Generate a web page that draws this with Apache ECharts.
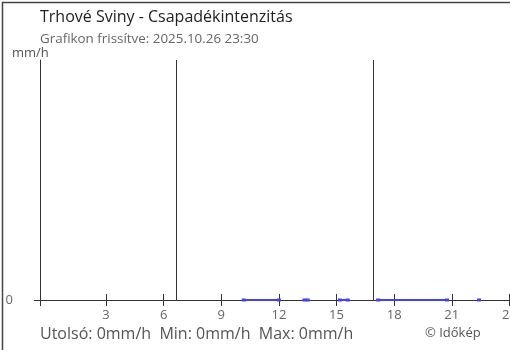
<!DOCTYPE html>
<html>
<head>
<meta charset="utf-8">
<script src="https://cdn.jsdelivr.net/npm/echarts@6/dist/echarts.min.js"></script>
<style>
html,body{margin:0;padding:0;background:#fff;overflow:hidden;width:510px;height:350px;}
#chart{width:530px;height:350px;}
</style>
</head>
<body>
<div id="chart"></div>
<script>
// ---- data ----
const titleText = 'Trhové Sviny - Csapadékintenzitás';
const subtitleText = 'Grafikon frissítve: 2025.10.26 23:30';
const unitLabel = 'mm/h';
// measurement times (null = gap in data)
const rainTimes = ['10:10', '12:00', null, '13:20', '13:30', null, '15:10', '15:35', null, '17:10', '20:45', null, '22:25'];
const rainValues = [0, 0, null, 0, 0, null, 0, 0, null, 0, 0, null, 0];
const xTickHours = [3, 6, 9, 12, 15, 18, 21, 24];
const xAxisStart = -0.44;   // approx. 23:34 previous day
const xAxisEnd = 24.5;
const yTickValues = [0];
const sunTimes = ['06:41', '16:54']; // sunrise, sunset markers
const statsText = 'Utolsó: 0mm/h  Min: 0mm/h  Max: 0mm/h';
const creditText = '© Időkép';

function toHours(t) {
  const p = t.split(':');
  return +p[0] + (+p[1]) / 60;
}
const seriesData = rainTimes.map((t, i) => t === null ? [null, '-'] : [toHours(t), rainValues[i]]);
const FONT = '"Open Sans", "Noto Sans", sans-serif';
const tickVals = [xAxisStart].concat(xTickHours);

const chart = echarts.init(document.getElementById('chart'));
chart.setOption({
  animation: false,
  textStyle: { fontFamily: FONT },
  grid: { left: 40, right: 11, top: 60, bottom: 50, containLabel: false },
  xAxis: [{
    type: 'value', min: xAxisStart, max: xAxisEnd,
    axisLine: { show: true, onZero: false, lineStyle: { color: '#333', width: 1 } },
    axisTick: { show: true, length: 6, customValues: tickVals, lineStyle: { color: '#333' } },
    axisLabel: { show: true, customValues: xTickHours, color: '#666', fontSize: 13, margin: 9, fontFamily: FONT },
    splitLine: { show: false }
  }, {
    type: 'value', min: xAxisStart, max: xAxisEnd, position: 'bottom',
    axisLine: { show: false, onZero: false },
    axisTick: { show: true, inside: true, length: 6, customValues: tickVals, lineStyle: { color: '#333' } },
    axisLabel: { show: false },
    splitLine: { show: false }
  }],
  yAxis: {
    type: 'value', min: 0, max: 1,
    axisLine: { show: true, onZero: false, lineStyle: { color: '#333', width: 1 } },
    axisTick: { show: true, length: 6, customValues: yTickValues, lineStyle: { color: '#333' } },
    axisLabel: { show: true, customValues: yTickValues, color: '#666', fontSize: 13, margin: 27, align: 'right', fontFamily: FONT },
    splitLine: { show: false }
  },
  series: [{
    type: 'line',
    xAxisIndex: 0,
    data: seriesData,
    connectNulls: false,
    showSymbol: true,
    showAllSymbol: true,
    symbol: 'rect',
    symbolSize: [4, 3],
    lineStyle: { color: '#4040ff', width: 2 },
    itemStyle: { color: '#4040ff' },
    clip: false,
    z: 3,
    markLine: {
      silent: true,
      symbol: ['none', 'none'],
      label: { show: false },
      lineStyle: { color: '#333', width: 1, type: 'solid' },
      data: sunTimes.map(t => ({ xAxis: toHours(t) }))
    }
  }],
  graphic: [
    { type: 'text', left: 40, top: 9, style: { text: titleText, font: '16px ' + FONT, fill: '#222' } },
    { type: 'text', left: 40, top: 33, style: { text: subtitleText, font: '13.4px ' + FONT, fill: '#666' } },
    { type: 'text', left: 12, top: 47, style: { text: unitLabel, font: '13px ' + FONT, fill: '#555' } },
    { type: 'text', left: 40, top: 326, style: { text: statsText, font: '16px ' + FONT, fill: '#555' } },
    { type: 'text', left: 425, top: 327, style: { text: creditText, font: '13px ' + FONT, fill: '#555' } },
    { type: 'rect', left: 0, top: 0, z: 100, shape: { x: 0.75, y: 0.75, width: 508.5, height: 348.5 },
      style: { fill: 'none', stroke: '#444', lineWidth: 1.5 } }
  ]
});
</script>
</body>
</html>
